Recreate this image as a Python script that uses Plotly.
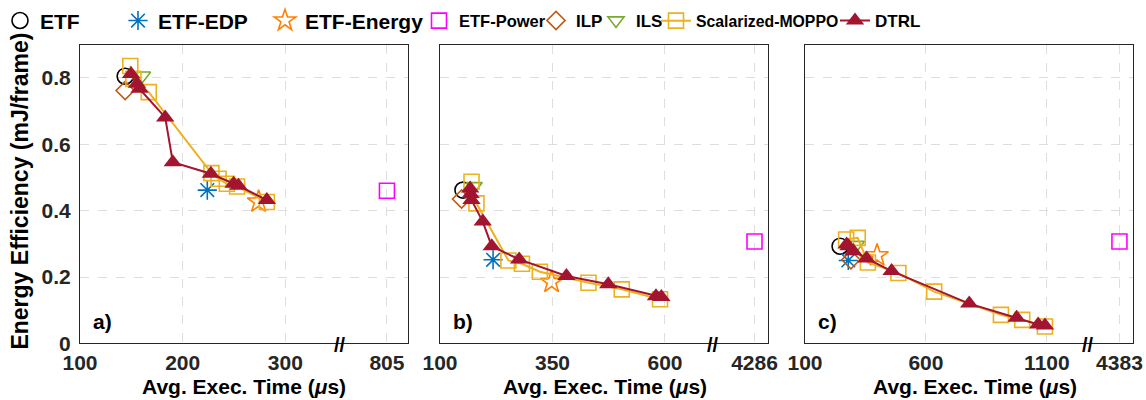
import plotly.graph_objects as go

# ---------------- data ----------------
series_names = ["ETF", "ETF-EDP", "ETF-Energy", "ETF-Power", "ILP", "ILS",
                "Scalarized-MOPPO", "DTRL"]

# panel a
etf_a_x = [144];  etf_a_y = [0.805]
edp_a_x = [224];  edp_a_y = [0.462]
energy_a_x = [274]; energy_a_y = [0.427]
power_a_x = [805]; power_a_y = [0.46]
ilp_a_x = [144];  ilp_a_y = [0.762]
ils_a_x = [161];  ils_a_y = [0.807]
moppo_a_x = [149, 152, 167, 228, 235, 243, 253, 282]
moppo_a_y = [0.836, 0.797, 0.757, 0.513, 0.496, 0.481, 0.473, 0.426]
dtrl_a_x = [149.7, 155.5, 158, 183, 190.4, 227.5, 249.6, 254.4, 282]
dtrl_a_y = [0.812, 0.782, 0.767, 0.681, 0.546, 0.511, 0.481, 0.475, 0.432]

# panel b
etf_b_x = [151];  etf_b_y = [0.462]
edp_b_x = [218];  edp_b_y = [0.252]
energy_b_x = [348]; energy_b_y = [0.185]
power_b_x = [4286]; power_b_y = [0.307]
ilp_b_x = [148];  ilp_b_y = [0.435]
ils_b_x = [176];  ils_b_y = [0.474]
moppo_b_x = [170, 181, 252, 282, 322, 430, 504, 589]
moppo_b_y = [0.487, 0.422, 0.250, 0.240, 0.216, 0.183, 0.163, 0.133]
dtrl_b_x = [167, 168, 170, 195, 215, 276, 381, 474, 580, 592]
dtrl_b_y = [0.467, 0.450, 0.432, 0.367, 0.293, 0.253, 0.203, 0.178, 0.142, 0.140]

# panel c
etf_c_x = [245];  etf_c_y = [0.293]
edp_c_x = [279];  edp_c_y = [0.250]
energy_c_x = [398]; energy_c_y = [0.265]
power_c_x = [4383]; power_c_y = [0.307]
ilp_c_x = [290];  ilp_c_y = [0.252]
ils_c_x = [313];  ils_c_y = [0.297]
moppo_c_x = [270, 318, 360, 486, 634, 910, 998, 1092]
moppo_c_y = [0.313, 0.318, 0.244, 0.212, 0.156, 0.086, 0.071, 0.051]
dtrl_c_x = [272, 280, 300, 354, 458, 779, 975, 1064, 1092]
dtrl_c_y = [0.298, 0.293, 0.278, 0.256, 0.218, 0.120, 0.077, 0.057, 0.054]

# axis ticks
x_ticks_a = [100, 200, 300, 805]
x_ticks_b = [100, 350, 600, 4286]
x_ticks_c = [100, 600, 1100, 4383]
y_ticks = [0, 0.2, 0.4, 0.6, 0.8]
y_tick_labels = ["0", "0.2", "0.4", "0.6", "0.8"]
panel_labels = ["a)", "b)", "c)"]

# ---------------- layout config ----------------
W, H = 1146, 400
FONT = "Liberation Sans, Arial, Helvetica, sans-serif"
TXT = "#262626"
GRID = "#dedede"

panels = [
    dict(px=(80, 408), rng=[100, 419.5], far_pos=399, brk=353.7, ticks=x_ticks_a,
         data=[(etf_a_x, etf_a_y), (edp_a_x, edp_a_y), (energy_a_x, energy_a_y),
               (power_a_x, power_a_y), (ilp_a_x, ilp_a_y), (ils_a_x, ils_a_y),
               (moppo_a_x, moppo_a_y), (dtrl_a_x, dtrl_a_y)], title_x=244),
    dict(px=(440, 768), rng=[100, 829], far_pos=799, brk=707.6, ticks=x_ticks_b,
         data=[(etf_b_x, etf_b_y), (edp_b_x, edp_b_y), (energy_b_x, energy_b_y),
               (power_b_x, power_b_y), (ilp_b_x, ilp_b_y), (ils_b_x, ils_b_y),
               (moppo_b_x, moppo_b_y), (dtrl_b_x, dtrl_b_y)], title_x=605),
    dict(px=(805, 1133), rng=[100, 1456], far_pos=1400, brk=1271, ticks=x_ticks_c,
         data=[(etf_c_x, etf_c_y), (edp_c_x, edp_c_y), (energy_c_x, energy_c_y),
               (power_c_x, power_c_y), (ilp_c_x, ilp_c_y), (ils_c_x, ils_c_y),
               (moppo_c_x, moppo_c_y), (dtrl_c_x, dtrl_c_y)], title_x=975),
]

styles = [
    dict(mode="markers", marker=dict(symbol="circle-open", size=16, color="black",
                                     line=dict(width=1.6, color="black"))),
    dict(mode="markers", marker=dict(symbol="asterisk-open", size=16, color="#0072BD",
                                     line=dict(width=1.6, color="#0072BD"))),
    dict(mode="markers", marker=dict(symbol="star-open", size=17, color="#FF8000",
                                     line=dict(width=1.6, color="#FF8000"))),
    dict(mode="markers", marker=dict(symbol="square-open", size=15, color="#FF00FF",
                                     line=dict(width=1.6, color="#FF00FF"))),
    dict(mode="markers", marker=dict(symbol="diamond-open", size=14, color="#C05A10",
                                     line=dict(width=1.6, color="#C05A10"))),
    dict(mode="markers", marker=dict(symbol="triangle-down-open", size=14, color="#77AC30",
                                     line=dict(width=1.6, color="#77AC30"))),
    dict(mode="lines+markers", line=dict(color="#EDB120", width=2),
         marker=dict(symbol="square-open", size=15, color="#EDB120",
                     line=dict(width=1.6, color="#EDB120"))),
    dict(mode="lines+markers", line=dict(color="#A2142F", width=2),
         marker=dict(symbol="triangle-up", size=16, color="#A2142F",
                     line=dict(width=0, color="#A2142F"))),
]

legend_left_px = [0, 118, 265, 419, 536, 596, 656, 835]
legend_font_sizes = [21, 21, 21, 16.5, 17, 17, 15.8, 17]


def map_x(vals, ticks, far_pos):
    far = ticks[-1]
    return [v - far + far_pos if v >= far else v for v in vals]


fig = go.Figure()
Y_DOM = [(H - 343) / H, (H - 42) / H]

for pi, p in enumerate(panels):
    ax = "" if pi == 0 else str(pi + 1)
    for si, (xs, ys) in enumerate(p["data"]):
        st = styles[si]
        fig.add_trace(go.Scatter(
            x=map_x(xs, p["ticks"], p["far_pos"]), y=ys, name=series_names[si],
            xaxis="x" + ax, yaxis="y" + ax, showlegend=(pi == 0),
            legend="legend" if si == 0 else "legend%d" % (si + 1),
            cliponaxis=False, **st))
    tickvals = p["ticks"][:-1] + [p["far_pos"]]
    fig.update_layout(**{
        "xaxis" + ax: dict(
            domain=[p["px"][0] / W, p["px"][1] / W], range=p["rng"], anchor="y" + ax,
            tickvals=tickvals, ticktext=[str(t) for t in p["ticks"]],
            showline=True, mirror=True, linecolor=TXT, linewidth=1,
            showgrid=True, gridcolor=GRID, griddash="dash", gridwidth=1,
            zeroline=False, ticks="", ticklabelstandoff=0, automargin=False,
            tickfont=dict(family=FONT, size=21, color=TXT, weight="bold")),
        "yaxis" + ax: dict(
            domain=Y_DOM, range=[0, 0.9], anchor="x" + ax,
            tickvals=y_ticks, ticktext=y_tick_labels, showticklabels=(pi == 0),
            showline=True, mirror=True, linecolor=TXT, linewidth=1,
            showgrid=True, gridcolor=GRID, griddash="dash", gridwidth=1,
            zeroline=False, ticks="", ticklabelstandoff=4, automargin=False,
            tickfont=dict(family=FONT, size=21, color=TXT, weight="bold")),
    })
    xr = "x" + ax
    fig.add_annotation(text=panel_labels[pi], xref=xr + " domain", yref="y" + ax + " domain",
                       x=0.07, y=0.075, xanchor="center", yanchor="middle", showarrow=False,
                       font=dict(family=FONT, size=21, color="black", weight="bold"))
    fig.add_annotation(text="//", xref=xr, yref="y" + ax + " domain", x=p["brk"], y=-0.005,
                       xanchor="center", yanchor="middle", showarrow=False,
                       font=dict(family=FONT, size=20, color="black", weight="bold"))
    fig.add_annotation(text="Avg. Exec. Time (<i>μ</i>s)", xref="paper", yref="paper",
                       x=p["title_x"] / W, y=0, xanchor="center", yanchor="bottom",
                       showarrow=False,
                       font=dict(family=FONT, size=21, color="black", weight="bold"))

fig.add_annotation(text="Energy Efficiency (mJ/frame)", xref="paper", yref="paper",
                   x=20 / W, y=(H - 190) / H, textangle=-90, xanchor="center", yanchor="middle",
                   showarrow=False, font=dict(family=FONT, size=23, color="black", weight="bold"))

legends = {}
for i, (lx, fs) in enumerate(zip(legend_left_px, legend_font_sizes)):
    key = "legend" if i == 0 else "legend%d" % (i + 1)
    legends[key] = dict(x=lx / W, y=(H - 18) / H, xanchor="left", yanchor="middle",
                        orientation="h", bgcolor="rgba(0,0,0,0)", borderwidth=0,
                        font=dict(family=FONT, size=fs, color="black", weight="bold"))

fig.update_layout(width=W, height=H, margin=dict(l=0, r=0, t=0, b=0),
                  paper_bgcolor="white", plot_bgcolor="white", **legends)

fig.write_html("out.html")
